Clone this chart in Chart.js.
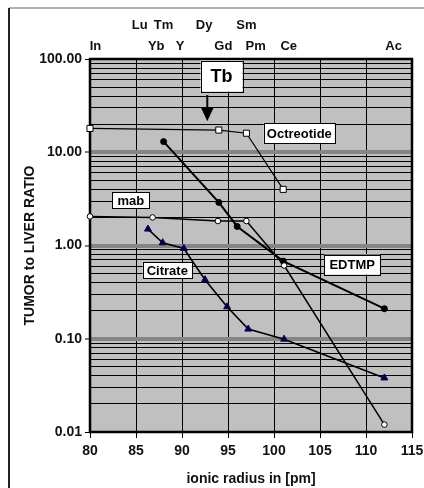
<!DOCTYPE html>
<html><head><meta charset="utf-8">
<script src="https://cdn.jsdelivr.net/npm/chart.js@4"></script>
<style>html,body{margin:0;padding:0;background:#fff}#wrap{width:424px;height:488px}</style>
</head><body><div id="wrap"><canvas id="c" width="424" height="488"></canvas></div>
<script>
// ---- data ----
const xTicks = [80, 85, 90, 95, 100, 105, 110, 115];
const yDecades = [0.01, 0.1, 1, 10, 100];

const octreotideX = [80, 94, 97, 101];
const octreotideY = [18, 17.3, 16, 4.0];

const mabX = [80, 86.8, 93.9, 97, 101.1, 112];
const mabY = [2.05, 2.0, 1.83, 1.83, 0.61, 0.012];

const edtmpX = [88, 94, 96, 101, 112];
const edtmpY = [13, 2.9, 1.6, 0.68, 0.21];

const citrateX = [86.3, 87.9, 90.2, 92.5, 94.9, 97.2, 101.1, 112];
const citrateY = [1.5, 1.07, 0.93, 0.43, 0.22, 0.127, 0.099, 0.038];

const topElements = ['In', 'Lu', 'Yb', 'Tm', 'Y', 'Dy', 'Gd', 'Sm', 'Pm', 'Ce', 'Ac'];
const topElementRadius = [80.6, 85.4, 87.2, 88.0, 89.8, 92.4, 94.5, 97.0, 98.0, 101.6, 113.0];
const topElementRow = [0, 1, 0, 1, 0, 1, 0, 1, 0, 0, 0];

// ---- annotations (text labels placed in data coordinates) ----
const annotations = [
  { text: 'Octreotide', x: 102.75, y: 16.0, size: 13, padX: 3, h: 20 },
  { text: 'mab', x: 84.44, y: 3.05, size: 13, padX: 5, h: 16 },
  { text: 'Citrate', x: 88.4, y: 0.54, size: 13, padX: 4, h: 16 },
  { text: 'EDTMP', x: 108.5, y: 0.625, size: 13, padX: 5, h: 20 },
  { text: 'Tb', x: 94.3, y: 65.6, size: 18, padX: 10, h: 31 }
];
const tbArrow = { x: 92.75, yFrom: 41, yTo: 21.5 };

const FONT = "'Liberation Sans', Arial, sans-serif";
const toPts = (xs, ys) => xs.map((x, i) => ({ x: x, y: ys[i] }));
const isDecade = v => Math.abs(Math.log10(v) - Math.round(Math.log10(v))) < 1e-9;

const yAllTicks = [];
for (let e = -2; e < 2; e++) {
  for (let m = 1; m < 10; m++) yAllTicks.push(+(m * Math.pow(10, e)).toPrecision(3));
}
yAllTicks.push(100);

const PAD_LEFT = 12;

const framePlugin = {
  id: 'frame',
  beforeDraw(chart) {
    const ctx = chart.ctx, a = chart.chartArea;
    ctx.save();
    ctx.fillStyle = '#fff';
    ctx.fillRect(0, 0, chart.width, chart.height);
    ctx.strokeStyle = '#b0b0b0';
    ctx.lineWidth = 2;
    ctx.beginPath(); ctx.moveTo(9, 8); ctx.lineTo(chart.width, 8); ctx.stroke();
    ctx.strokeStyle = '#222';
    ctx.beginPath(); ctx.moveTo(9, 8); ctx.lineTo(9, chart.height); ctx.stroke();
    ctx.fillStyle = '#c0c0c0';
    ctx.fillRect(a.left, a.top, a.right - a.left, a.bottom - a.top);
    ctx.restore();
  },
  beforeDatasetsDraw(chart) {
    const ctx = chart.ctx, a = chart.chartArea;
    ctx.save();
    ctx.strokeStyle = '#000';
    ctx.lineWidth = 2.5;
    ctx.strokeRect(a.left, a.top, a.right - a.left, a.bottom - a.top);
    ctx.restore();
  },
  afterDatasetsDraw(chart) {
    const ctx = chart.ctx, xs = chart.scales.x, ys = chart.scales.y;
    ctx.save();
    annotations.forEach(an => {
      const px = xs.getPixelForValue(an.x), py = ys.getPixelForValue(an.y);
      ctx.font = 'bold ' + an.size + 'px ' + FONT;
      const w = ctx.measureText(an.text).width + an.padX * 2;
      ctx.fillStyle = '#fff';
      ctx.fillRect(px - w / 2, py - an.h / 2, w, an.h);
      ctx.strokeStyle = '#000';
      ctx.lineWidth = 1;
      ctx.strokeRect(Math.round(px - w / 2) + 0.5, Math.round(py - an.h / 2) + 0.5, Math.round(w), an.h);
      ctx.fillStyle = '#000';
      ctx.textAlign = 'center';
      ctx.textBaseline = 'middle';
      ctx.fillText(an.text, px, py + 1);
    });
    // Tb arrow
    const ax = xs.getPixelForValue(tbArrow.x);
    const y1 = ys.getPixelForValue(tbArrow.yFrom), y2 = ys.getPixelForValue(tbArrow.yTo);
    ctx.strokeStyle = '#000';
    ctx.lineWidth = 2;
    ctx.beginPath(); ctx.moveTo(ax, y1); ctx.lineTo(ax, y2 - 12); ctx.stroke();
    ctx.fillStyle = '#000';
    ctx.beginPath();
    ctx.moveTo(ax - 6.5, y2 - 14); ctx.lineTo(ax + 6.5, y2 - 14); ctx.lineTo(ax, y2); ctx.closePath();
    ctx.fill();
    ctx.restore();
  }
};

const baseDs = { showLine: true, tension: 0, clip: false, borderColor: '#000', pointBorderColor: '#000' };

new Chart(document.getElementById('c'), {
  type: 'line',
  data: {
    datasets: [
      Object.assign({}, baseDs, { label: 'Octreotide', data: toPts(octreotideX, octreotideY), borderWidth: 1.2,
        pointStyle: 'rect', pointRadius: 4.3, pointBackgroundColor: '#fff', pointBorderWidth: 1 }),
      Object.assign({}, baseDs, { label: 'mab', data: toPts(mabX, mabY), borderWidth: 1.5,
        pointStyle: 'circle', pointRadius: 2.8, pointBackgroundColor: '#fff', pointBorderWidth: 1 }),
      Object.assign({}, baseDs, { label: 'EDTMP', data: toPts(edtmpX, edtmpY), borderWidth: 2,
        pointStyle: 'circle', pointRadius: 3, pointBackgroundColor: '#000', pointBorderWidth: 1 }),
      Object.assign({}, baseDs, { label: 'Citrate', data: toPts(citrateX, citrateY), borderWidth: 1.6,
        pointStyle: 'triangle', pointRadius: 4, pointBackgroundColor: '#000050', pointBorderColor: '#000050', pointBorderWidth: 1 })
    ]
  },
  options: {
    responsive: false,
    animation: false,
    devicePixelRatio: 1,
    layout: { padding: { left: PAD_LEFT, right: 12, top: 0, bottom: 0 } },
    plugins: { legend: { display: false }, tooltip: { enabled: false } },
    scales: {
      x: {
        type: 'linear', position: 'bottom', min: 80, max: 115,
        afterBuildTicks: s => { s.ticks = xTicks.map(v => ({ value: v })); },
        afterFit: s => { s.height = 56; s.paddingLeft = 0; s.paddingRight = 0; },
        ticks: { font: { family: FONT, size: 14, weight: 'bold' }, color: '#111', padding: 5, maxRotation: 0, autoSkip: false },
        grid: { color: '#000', lineWidth: 1, tickLength: 6, tickColor: '#000', tickWidth: 1 },
        border: { display: false },
        title: { display: true, text: 'ionic radius in [pm]', font: { family: FONT, size: 14, weight: 'bold' }, color: '#111', padding: { top: 0, bottom: 0 } }
      },
      x2: {
        type: 'linear', position: 'top', min: 80, max: 115,
        afterBuildTicks: s => { s.ticks = topElementRadius.map(v => ({ value: v })); },
        afterFit: s => { s.height = 59; s.paddingLeft = 0; s.paddingRight = 0; },
        ticks: {
          font: { family: FONT, size: 13, weight: 'bold', lineHeight: '21px' }, color: '#111', padding: 2,
          maxRotation: 0, minRotation: 0, autoSkip: false,
          callback: (v, i) => topElementRow[i] === 1 ? [topElements[i], ''] : ['', topElements[i]]
        },
        grid: { display: false, drawTicks: false },
        border: { display: false }
      },
      y: {
        type: 'logarithmic', position: 'left', min: 0.01, max: 100,
        afterBuildTicks: s => { s.ticks = yAllTicks.map(v => ({ value: v })); },
        afterFit: s => { s.width = 90 - PAD_LEFT; s.paddingTop = 0; s.paddingBottom = 0; },
        ticks: {
          font: { family: FONT, size: 14, weight: 'bold' }, color: '#111', padding: 3, autoSkip: false,
          callback: v => (yDecades.indexOf(v) >= 0 || isDecade(v)) ? Number(v).toFixed(2) : ''
        },
        grid: {
          color: c => (c.tick && isDecade(c.tick.value) && c.tick.value > 0.011 && c.tick.value < 99) ? '#858585' : '#000',
          lineWidth: c => (c.tick && isDecade(c.tick.value) && c.tick.value > 0.011 && c.tick.value < 99) ? 4 : 1,
          tickColor: c => (c.tick && isDecade(c.tick.value)) ? '#000' : 'rgba(0,0,0,0)',
          tickLength: 5, tickWidth: 1
        },
        border: { display: false },
        title: { display: true, text: 'TUMOR to LIVER RATIO', font: { family: FONT, size: 14, weight: 'bold' }, color: '#111', padding: { top: 10, bottom: 0 } }
      }
    }
  },
  plugins: [framePlugin]
});
</script>
</body></html>
